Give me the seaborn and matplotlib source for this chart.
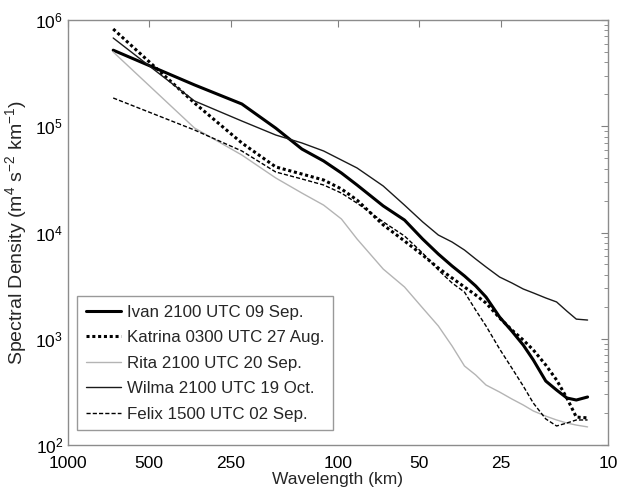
"""
Spectral density of hurricane wind fields vs wavelength (log-log, reversed x).
"""
import numpy as np
import pandas as pd
import matplotlib
matplotlib.use("Agg")
import matplotlib.pyplot as plt
import seaborn as sns
from matplotlib.ticker import LogLocator, NullLocator, FixedLocator, FixedFormatter

# wavelengths (km) sampled along the spectra
wavelength = [680, 340, 227, 170, 136, 113, 97.1, 85, 68, 56.7, 48.6, 42.5, 37.8,
              34, 30.9, 28.3, 25.2, 22.7, 20.6, 18.9, 17, 15.5, 14.2, 13.1, 11.9]

ivan = [5.2e5, 2.45e5, 1.62e5, 9.6e4, 6.1e4, 4.71e4, 3.63e4, 2.8e4, 1.78e4, 1.31e4,
        8.69e3, 6.27e3, 4.84e3, 3.9e3, 3.14e3, 2.47e3, 1.6e3, 1.18e3, 873, 631,
        400, 329, 277, 265, 283]
katrina = [8.23e5, 1.655e5, 6.96e4, 4.14e4, 3.55e4, 3.12e4, 2.57e4, 2.02e4, 1.18e4,
           8.32e3, 6.14e3, 4.63e3, 3.73e3, 3.07e3, 2.58e3, 2.17e3, 1.57e3, 1.21e3,
           973, 784, 566, 409, 277, 183, 180]
rita = [5.0e5, 9.63e4, 5.36e4, 3.26e4, 2.35e4, 1.81e4, 1.34e4, 8.69e3, 4.53e3,
        3.07e3, 1.95e3, 1.32e3, 855, 554, 456, 367, 315, 271, 238, 209, 187, 172,
        161, 154, 148]
wilma = [6.77e5, 1.73e5, 1.12e5, 8.27e4, 6.96e4, 5.85e4, 4.81e4, 4.05e4, 2.74e4,
         1.81e4, 1.26e4, 9.47e3, 8.14e3, 6.84e3, 5.63e3, 4.74e3, 3.81e3, 3.35e3,
         2.94e3, 2.7e3, 2.42e3, 2.22e3, 1.82e3, 1.53e3, 1.5e3]
felix = [1.845e5, 9.22e4, 5.85e4, 3.71e4, 3.19e4, 2.8e4, 2.35e4, 1.89e4, 1.26e4,
         9.27e3, 6.41e3, 4.44e3, 3.35e3, 2.75e3, 1.86e3, 1.32e3, 801, 530, 359, 248,
         176, 151, 161, 172, 172]

labels = ["Ivan 2100 UTC 09 Sep.", "Katrina 0300 UTC 27 Aug.", "Rita 2100 UTC 20 Sep.",
          "Wilma 2100 UTC 19 Oct.", "Felix 1500 UTC 02 Sep."]
xticks = [1000, 500, 250, 100, 50, 25, 10]

sns.set_style("white")
plt.rcParams["font.family"] = ["Liberation Sans", "DejaVu Sans"]
plt.rcParams["mathtext.fontset"] = "custom"
plt.rcParams["mathtext.rm"] = "Liberation Sans"

fig = plt.figure(figsize=(6.26, 4.94), dpi=100)
ax = fig.add_axes([0.1086, 0.0992, 0.8626, 0.8603])

styles = [
    dict(color="black", lw=2.2, ls="-"),
    dict(color="black", lw=2.2, ls=(0, (1, 0.9))),
    dict(color="#b4b4b4", lw=1.0, ls="-"),
    dict(color="#1a1a1a", lw=1.0, ls="-"),
    dict(color="black", lw=1.0, ls=(0, (3, 1.5))),
]
series = [ivan, katrina, rita, wilma, felix]

for vals, lab, st in zip(series, labels, styles):
    df = pd.DataFrame({"wavelength": wavelength, "density": vals})
    sns.lineplot(data=df, x="wavelength", y="density", ax=ax, label=lab,
                 sort=False, estimator=None, **st)

ax.set_xscale("log")
ax.set_yscale("log")
ax.set_xlim(1000, 10)
ax.set_ylim(1e2, 1e6)

ax.xaxis.set_major_locator(FixedLocator(xticks))
ax.xaxis.set_major_formatter(FixedFormatter([str(t) for t in xticks]))
ax.xaxis.set_minor_locator(NullLocator())
ax.yaxis.set_major_locator(LogLocator(base=10, numticks=10))
ax.yaxis.set_minor_locator(LogLocator(base=10, subs=np.arange(2, 10), numticks=10))

ax.tick_params(which="both", direction="in", top=True, right=True,
               colors="#808080", labelcolor="black", labelsize=12.5)
ax.tick_params(which="major", length=5, width=0.8)
ax.tick_params(which="minor", length=3, width=0.6)
ax.tick_params(axis="x", pad=8)
for sp in ax.spines.values():
    sp.set_color("#8c8c8c")
    sp.set_linewidth(1.0)

ax.set_xlabel("Wavelength (km)", fontsize=12.5, labelpad=1)
ax.set_ylabel("Spectral Density (m$^4$ s$^{-2}$ km$^{-1}$)", fontsize=14, labelpad=4)

leg = ax.legend(loc="lower left", bbox_to_anchor=(0.017, 0.035), fontsize=12.2,
                frameon=True, fancybox=False, handlelength=2.1, handletextpad=0.35,
                labelspacing=0.62, borderpad=0.5, borderaxespad=0)
leg.get_frame().set_edgecolor("#808080")
leg.get_frame().set_linewidth(1.0)

fig.savefig("out.png", dpi=100)
